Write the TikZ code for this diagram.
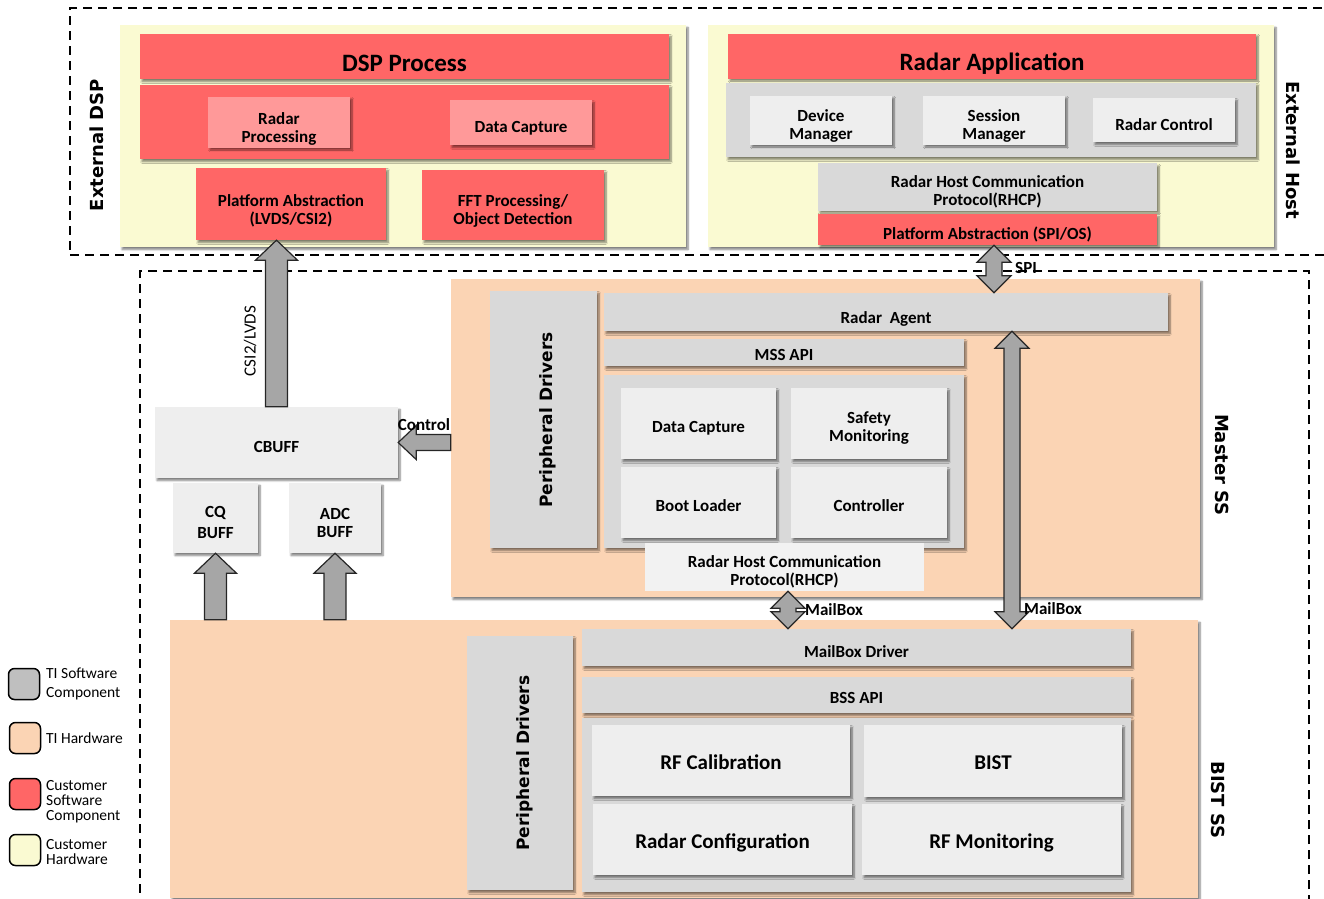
\documentclass[tikz,border=0pt]{standalone}
\usepackage{fontspec}
\setmainfont{Carlito}
\newfontfamily\dvs{DejaVu Sans}
\usetikzlibrary{calc,shadows.blur}
\definecolor{cred}{HTML}{FF6666}
\definecolor{cpink}{HTML}{FF9999}
\definecolor{cyel}{HTML}{FAFAD2}
\definecolor{cpeach}{HTML}{FBD4B4}
\definecolor{cgray}{HTML}{D9D9D9}
\definecolor{clight}{HTML}{EEEEEE}
\definecolor{cpale}{HTML}{F2F2F2}
\definecolor{carrow}{HTML}{A6A6A6}
\definecolor{clegray}{HTML}{BFBFBF}
\newcommand\tbx[2]{\raisebox{0pt}[\dimexpr\height+#1\relax][\depth]{\begin{tabular}{@{}c@{}}#2\end{tabular}}}
\newcommand\bx[7]{\node[#2,minimum width={#5pt-#3pt},minimum height={#6pt-#4pt}] (#1) at ({(#3+#5)/2},{(#4+#6)/2}) {#7};}
\newcommand\uparr[2]{\draw[barrow] let \p1=(#1),\p2=(#2) in (\x2-11pt,\y1) -- (\x2-11pt,\y2-20pt) -- (\x2-21pt,\y2-20pt) -- (\x2,\y2) -- (\x2+21pt,\y2-20pt) -- (\x2+11pt,\y2-20pt) -- (\x2+11pt,\y1) -- cycle;}
\newcommand\dblarr[2]{\draw[barrow] let \p1=(#1),\p2=(#2) in (\x1,\y1) -- (\x1+17pt,\y1-17pt) -- (\x1+8pt,\y1-17pt) -- (\x1+8pt,\y2+17pt) -- (\x1+17pt,\y2+17pt) -- (\x1,\y2) -- (\x1-17pt,\y2+17pt) -- (\x1-8pt,\y2+17pt) -- (\x1-8pt,\y1-17pt) -- (\x1-17pt,\y1-17pt) -- cycle;}
\newcommand\leftarr[2]{\draw[barrow] let \p1=(#1),\p2=(#2) in (\x1,\y2+8pt) -- (\x2+18pt,\y2+8pt) -- (\x2+18pt,\y2+17pt) -- (\x2,\y2) -- (\x2+18pt,\y2-17pt) -- (\x2+18pt,\y2-8pt) -- (\x1,\y2-8pt) -- cycle;}
\tikzset{
  base/.style={inner sep=0pt,align=center,font=\bfseries\fontsize{17}{18}\selectfont},
  shad/.style={blur shadow={shadow xshift=2pt,shadow yshift=-2.5pt,shadow blur steps=6,shadow opacity=50}},
  dashedbox/.style={draw=black,line width=1.3pt,dash pattern=on 9pt off 6pt,inner sep=0pt},
  ypanel/.style={base,fill=cyel,shad},
  hwpanel/.style={base,fill=cpeach,shad},
  redbox/.style={base,fill=cred,shad},
  pinkbox/.style={base,fill=cpink,shad},
  graybox/.style={base,fill=cgray,shad},
  lightbox/.style={base,fill=clight,shad},
  palebox/.style={base,fill=cpale},
  bigfont/.style={font=\bfseries\fontsize{25}{26}\selectfont},
  midfont/.style={font=\bfseries\fontsize{21}{22}\selectfont},
  sidelbl/.style={font=\dvs\bfseries\fontsize{18}{20}\selectfont,inner sep=0pt},
  pdlbl/.style={font=\dvs\bfseries\fontsize{17}{20}\selectfont,inner sep=0pt,rotate=90},
  barrow/.style={fill=carrow,draw=black!85,line width=1.2pt,line join=miter},
  lbl/.style={font=\bfseries\fontsize{17}{18}\selectfont,inner sep=0pt},
  legsq/.style={draw=black,line width=1.5pt,rounded corners=6pt,minimum width=31pt,minimum height=31pt,inner sep=0pt},
  legtxt/.style={anchor=west,align=left,inner sep=0pt,font=\fontsize{15.5}{15}\selectfont},
}
\begin{document}
\begin{tikzpicture}[x=1pt,y=-1pt]
\useasboundingbox (0,0) rectangle (1324,898);
% dashed frames
\bx{extframe}{dashedbox}{70}{8}{1345}{255}{}
\bx{devframe}{dashedbox}{140}{271}{1309}{920}{}
% External DSP
\bx{dsppanel}{ypanel}{120}{25}{686}{247}{}
\bx{dspproc}{redbox,bigfont}{140}{37}{669}{76}{\tbx{19pt}{DSP Process}}
\bx{dspmid}{redbox}{140}{85}{669}{159}{}
\bx{rproc}{pinkbox}{208}{99}{350}{145}{\tbx{15pt}{Radar\\Processing}}
\bx{dcapa}{pinkbox}{450}{100}{592}{145}{\tbx{13pt}{Data Capture}}
\bx{pa}{redbox}{196}{168}{386}{240}{\tbx{16pt}{Platform Abstraction\\(LVDS/CSI2)}}
\bx{fft}{redbox}{422}{170}{604}{240}{\tbx{13pt}{FFT Processing/\\Object Detection}}
\node[sidelbl,rotate=90] (extdsp) at (97,145) {External DSP};
% External Host
\bx{hostpanel}{ypanel}{708}{25}{1274}{247}{}
\bx{radapp}{redbox,bigfont}{728}{37}{1256}{75}{\tbx{19pt}{Radar Application}}
\bx{hostmid}{graybox}{726}{83}{1256}{157}{}
\bx{devmgr}{lightbox}{750}{98}{892}{142}{\tbx{13pt}{Device\\Manager}}
\bx{sesmgr}{lightbox}{923}{98}{1065}{142}{\tbx{13pt}{Session\\Manager}}
\bx{radctl}{lightbox}{1093}{98}{1235}{142}{\tbx{13pt}{Radar Control}}
\bx{rhcpa}{graybox}{818}{167}{1157}{207}{\tbx{11pt}{Radar Host Communication\\Protocol(RHCP)}}
\bx{pasp}{redbox}{818}{214}{1157}{245}{\tbx{13pt}{Platform Abstraction (SPI/OS)}}
\node[sidelbl,rotate=-90] (exthost) at (1293,150) {External Host};
% Master SS
\bx{master}{hwpanel}{451}{279}{1200}{597}{}
\bx{pda}{graybox}{490}{291}{597}{548}{}
\node[pdlbl] (pdatxt) at (548,420) {Peripheral Drivers};
\bx{ragent}{graybox}{604}{293}{1168}{331}{\tbx{15pt}{Radar~~Agent}}
\bx{mssapi}{graybox}{604}{339}{964}{366}{\tbx{9pt}{MSS API}}
\bx{msscont}{graybox}{604}{375}{964}{548}{}
\bx{dcapb}{lightbox}{621}{388}{776}{459}{\tbx{11pt}{Data Capture}}
\bx{safety}{lightbox}{791}{388}{947}{459}{\tbx{11pt}{Safety\\Monitoring}}
\bx{boot}{lightbox}{621}{467}{776}{538}{\tbx{11pt}{Boot Loader}}
\bx{ctrl}{lightbox}{791}{467}{947}{538}{\tbx{11pt}{Controller}}
\bx{rhcpb}{palebox}{645}{545}{924}{589}{\tbx{12pt}{Radar Host Communication\\Protocol(RHCP)}}
\node[sidelbl,rotate=-90] (masterlbl) at (1222,465) {Master SS};
% buffers
\bx{cbuff}{lightbox}{155}{407}{398}{478}{\tbx{13pt}{CBUFF}}
\bx{cq}{lightbox}{173}{483}{258}{553}{\tbx{13pt}{CQ\\[3pt]BUFF}}
\bx{adc}{lightbox}{289}{483}{381}{553}{\tbx{13pt}{ADC\\BUFF}}
% BIST SS
\bx{bist}{hwpanel}{170}{620}{1198}{898}{}
\bx{pdb}{graybox}{467}{636}{573}{890}{}
\node[pdlbl] (pdbtxt) at (525,763) {Peripheral Drivers};
\bx{mbdrv}{graybox}{582}{629}{1131}{666}{\tbx{13pt}{MailBox Driver}}
\bx{bssapi}{graybox}{582}{677}{1131}{713}{\tbx{9pt}{BSS API}}
\bx{bsscont}{graybox}{582}{718}{1131}{892}{}
\bx{rfcal}{lightbox,midfont}{592}{725}{850}{796}{\tbx{9pt}{RF Calibration}}
\bx{bistb}{lightbox,midfont}{864}{725}{1122}{797}{\tbx{9pt}{BIST}}
\bx{radcfg}{lightbox,midfont}{593}{804}{852}{875}{\tbx{10pt}{Radar Configuration}}
\bx{rfmon}{lightbox,midfont}{862}{804}{1121}{875}{\tbx{10pt}{RF Monitoring}}
\node[sidelbl,rotate=-90] (bistlbl) at (1218,800) {BIST SS};
% arrows
\coordinate (spix) at (994,0);
\coordinate (mbx) at (1012,0);
\coordinate (mbsx) at (788,0);
\uparr{cbuff.north}{cbuff.north |- pa.south}
\uparr{cq.south |- bist.north}{cq.south}
\uparr{adc.south |- bist.north}{adc.south}
\leftarr{master.west |- cbuff.east}{cbuff.east}
\dblarr{pasp.south -| spix}{ragent.north -| spix}
\dblarr{ragent.south -| mbx}{mbdrv.north -| mbx}
\dblarr{rhcpb.south -| mbsx}{mbdrv.north -| mbsx}
% arrow labels
\node[font=\fontsize{17}{17}\selectfont,inner sep=0pt,rotate=90] (csil) at (250,341) {CSI2/LVDS};
\node[lbl] (ctll) at (424,425) {Control};
\node[lbl,anchor=west] (spil) at (1015,268) {SPI};
\node[lbl,anchor=west] (mbla) at (805,610) {MailBox};
\node[lbl,anchor=west] (mblb) at (1024,609) {MailBox};
% legend
\node[legsq,fill=clegray] (lga) at (24,684) {};
\node[legtxt,font=\fontsize{15.5}{19}\selectfont] (lgat) at (46,684) {TI Software\\Component};
\node[legsq,fill=cpeach] (lgb) at (25,738) {};
\node[legtxt] (lgbt) at (46,738) {TI Hardware};
\node[legsq,fill=cred] (lgc) at (25,794) {};
\node[legtxt] (lgct) at (46,802) {Customer\\Software\\Component};
\node[legsq,fill=cyel] (lgd) at (25,850) {};
\node[legtxt] (lgdt) at (46,852) {Customer\\Hardware};
\end{tikzpicture}
\end{document}
